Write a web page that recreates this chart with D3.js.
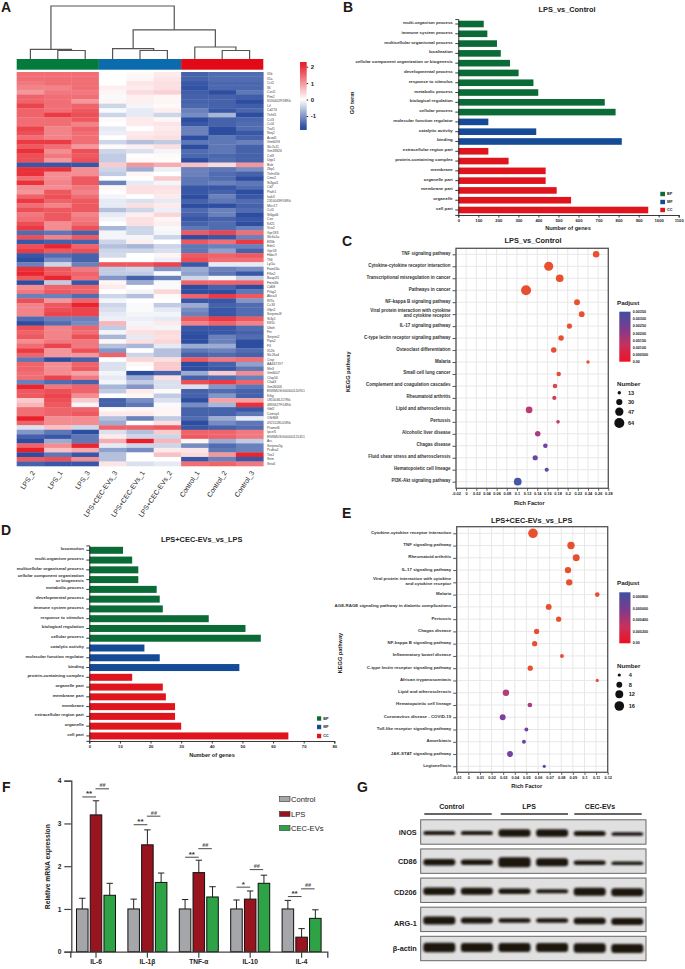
<!DOCTYPE html>
<html><head><meta charset="utf-8">
<script src="https://cdn.jsdelivr.net/npm/d3@7/dist/d3.min.js"></script>
<style>html,body{margin:0;background:#fff}svg{display:block}text{font-family:"Liberation Sans",Arial,sans-serif;fill:#222}</style>
</head><body><svg id="c" width="685" height="969"></svg>
<script>
// ---------- Panel A data ----------
const heatColumns=["LPS_2","LPS_1","LPS_3","LPS+CEC-EVs_3","LPS+CEC-EVs_1","LPS+CEC-EVs_2","Control_1","Control_2","Control_3"];
const heatGenes=["Il1b","Il1a","Ccl2","Il6","Cxcl2","Pim2","6530402F18Rik","Lif","Cd274","Tnfsf1","Ccl3","Ccl4","Traf1","Ninj2","Acod1","Gm6093","Slc7a11","Gm18826","Csf3","Upp1","Bub","Zbp1","Tnfrsf1b","Cmx2","St3gal1","Cd7","Ptafr1","Irak3","2310043F16Rik","Mtcr17","Ccl5","St6gal6","Csn","Kif21","Vcn2","Gpr183","Slc6a1a","Ell3b","Edn1","Gpr18","Hdac9","Tlt6","Lyl1a","Fam43a","F3in2","Basp2l1","Fmnl4b","Cd68","Prkg2","Abca3","Rf7a","Cc33","Gfpt2","Serpina3f","St3y1","Klf10","Ubxh","Fin","Serpini2","Pipa2","F3","Il12b","Slc26a4","Crsp","AA467197","Sfn3","Gm6007","Cfap50","Cfad3","Gm26006","ENSMUSG00000120951","Kifig","1810046J17Rik","4833427F14Rik","Gbf2","Cxmsp1","Olfr868","4921528L05Rik","Pramel6","Ipcef1","ENSMUSG00000121451","Arc","Serpina5g","Pcdha2","Tex2","Sntn","Stra6"];
const heatValues=[
[1.4,1.4,1.4,0,.05,.2,-1.5,-1.4,-1.4],[1.4,1.4,1.4,0,.1,.25,-1.5,-1.4,-1.4],[1.3,1.4,1.4,0,.25,.3,-1.6,-1.45,-1.45],[1.2,1.2,1.4,.15,.2,.3,-1.65,-1.45,-1.45],
[1,1.3,1.3,.1,.35,.45,-1.55,-1.8,-1.3],[1.5,1.4,1.4,-.05,.15,.1,-1.5,-1.5,-1.55],[1.5,1.4,1,.1,.15,.1,-1.5,-1.5,-1.7],[1.8,1.4,1.5,-.4,-.1,.05,-1.45,-1.5,-1.55],
[1.5,1.4,1.6,-.05,-.2,.15,-1.2,-1.6,-1.45],[1.5,1.9,1.7,-.4,-.2,-.4,-1.1,-.7,-1.8],[1.4,1.4,1.6,.05,.2,.1,-1.7,-1.5,-1.45],[1.4,1.4,1.2,0,.2,.25,-1.6,-1.5,-1.4],
[1.8,1.2,1.5,-.2,0,.2,-1.2,-1.7,-1.4],[1.7,1.2,1.4,-.15,.2,.25,-1.2,-1.7,-1.6],[1.4,1.2,1.4,0,.25,.3,-1.8,-1.3,-1.5],[1.9,1.9,1.4,-.4,-.6,-.5,-1.3,-1.3,-1.2],
[1.6,1.4,1,.05,.15,.3,-1.7,-1.3,-1.5],[2,1.1,1.7,-.4,-.3,-.1,-1.4,-1.3,-1.5],[1.7,1.3,1.6,-.5,.02,.05,-1.45,-1.45,-1.5],[1.7,1,1.7,-.5,.05,.03,-1.7,-1.4,-1.5],
[-1.6,-1.6,-1.6,.5,1,.8,.6,.35,1],[2,2,1.1,-.4,-.8,-.15,-1.2,-1.3,-1.1],[2,1.1,1.1,-.5,.1,0,-1.2,-1.4,-1.5],[1.4,1.1,1.6,-.02,0,.5,-1.3,-1.4,-1.7],
[2,1.2,1.6,-1.2,-.2,-.1,-1.3,-1.2,-1.3],[1.1,1.1,1.3,.1,.3,.3,-1.6,-1.6,-1.4],[1,1.6,1.2,.02,.3,.25,-1.6,-1.5,-1.7],[1.5,1.7,1.4,-.1,0,.2,-1.8,-1.2,-1.6],
[1.9,1.5,1.6,-.2,-.3,-.2,-1.5,-1.3,-1.4],[1.4,1.2,1.6,-.2,.3,.2,-1.7,-1.7,-1.5],[1.7,1.6,1.6,-.6,-.4,-.15,-1.4,-1.2,-1.4],[1.3,1.6,1.2,-.2,.15,.4,-1.5,-1.2,-1.7],
[1.4,1.6,1.3,-.1,.3,.1,-1.6,-1.5,-1.6],[1.7,1.1,1.4,0,.3,.15,-1.5,-1.4,-1.8],[1.9,1.1,1.7,-.7,-.4,-.05,-1.3,-1.4,-1.2],[-1.4,-1.3,-1.5,-.1,-.4,-.1,1.6,1.8,1.4],
[1.7,1.2,1.6,-.1,-.1,-.4,-1.7,-1.6,-1.2],[-1.6,-1.5,-1.5,-.4,.15,0,1.6,1.4,1.9],[1.7,2.1,1.5,-.6,-.7,-.4,-1.3,-1.2,-1.2],[1.9,1.6,1.7,-.4,-.4,-.3,-1.3,-.9,-1.5],
[-1.6,-1.4,-1.5,-.35,0,.1,1.6,1.5,1.6],[-1.9,-1.1,-1.5,0,0,-.15,1.7,1.4,1.4],[-1.2,-.4,-1.2,1.6,1.6,1.8,-1.6,-.2,-.2],[2,1.6,1.3,-.5,-.4,-1,-.8,-1.2,-1.1],
[2.1,1.6,1.5,-.5,-.5,-.05,-.9,-1.3,-1.6],[1.6,2.1,1.4,-1,-1.5,-1.2,-.4,-.1,-.5],[-1.7,-.5,-1.6,.1,-.8,-.05,1.5,1.5,1.5],[1.1,1.5,1.5,.2,0,-.05,-1.7,-1.5,-1.7],
[1.3,1.6,1.5,0,-.1,.4,-1.7,-1.7,-1.3],[-1.2,-1.2,-1.4,-.4,-.6,.05,1.5,1.9,1.6],[1.7,1,1.5,-.1,0,0,-1.6,-1.6,-1],[1.2,1.6,2.1,-.4,-.05,-.5,-.8,-1.5,-1.4],
[1.2,1.7,1.8,-.3,-.05,-.2,-1.1,-1.6,-1.4],[1.2,1.8,1.8,-.2,-.1,-.1,-1.2,-1.6,-1.4],[-1.4,-1.2,-1.2,-.15,-.15,-.2,1.6,1.9,1.6],[-1.9,-1.4,-1.1,.7,-.1,.2,1.2,1.5,1.2],
[1.7,1.2,1.5,-.5,.15,-.1,-1.6,-1.6,-1.4],[1.5,1.2,1.4,-.1,.3,.35,-1.65,-1.6,-1.5],[1.6,1.2,1.7,-.7,-.2,.3,-1.7,-1.2,-1.4],[1.1,1.3,1.3,.1,.3,.4,-1.8,-1.2,-1.8],
[1.4,1.8,1.3,-.6,-.7,-.2,-.8,-.8,-1.8],[1.9,1,1.7,-1,0,-.6,-1.3,-1.2,-1.4],[1.5,1,1,1.5,-.4,-.6,-1.5,-1.4,-1.5],[-1.3,-1.8,-1.5,0,.4,.3,1.6,1.3,1.4],
[1.5,1.1,1.5,-.3,.1,.5,-1.7,-1.5,-.9],[1.5,1.1,1.6,-.3,0,.5,-1.7,-1.6,-1.3],[1.4,1.1,.9,-.1,-1.85,-1.5,-.8,.5,1.1],[1.4,1.8,1.3,-.2,-.8,.3,-1.5,-1.4,-1.2],
[-1.2,-1.4,-1.5,-.1,-.5,-.3,1.7,1.9,1.5],[2.1,1.3,1.5,-.7,-1,-.3,-.3,-1,-1.3],[1.6,1.7,1.5,-.5,.2,.05,-1.5,-1.4,-1.5],[1.6,1.8,1.1,0,.1,-.5,-1.5,-1,-1.5],
[.5,1.7,.5,-1.5,-1.1,-.3,-1.8,.9,.9],[.7,1.6,-.1,-1.5,-1.3,-.05,-1.1,-.7,2],[1.4,1.5,1.5,.05,.1,.1,-1.5,-1.5,-1.6],[1.4,1.5,1.6,.2,.2,.1,-1.5,-1.5,-1.3],
[2.2,1.1,1.1,-.6,-1.2,-.5,-1.4,-.8,-.2],[1.5,1.1,1.1,-.8,.02,.3,-1.7,-1.1,-1.3],[-.3,.6,-.4,1.5,1.5,1.6,-1.6,-1.5,-1.4],[-1,-1.3,-1.8,-.3,-.6,.5,1.5,1.5,1.3],
[-1.5,-1.6,-1.3,.2,-.4,-.4,1.6,1.5,1.3],[-1.7,-.8,-1.3,.8,2.2,.7,.1,-.8,-.5],[1.5,1.1,2.1,-.2,-.4,-.4,-1.1,-1.4,-1.2],[2.3,.6,.8,-.9,-1.1,.2,.25,-1.3,-1.2],
[-1.7,-1.3,-1.6,-.6,0,.6,.35,1,2.1],[1.6,1.7,1.1,-.6,0,0,-1.6,-1.2,-1.6],[-1.5,-1.6,-1.6,.25,-.3,-.2,1.4,1.5,1.3]];
const heatGroups=[{start:0,end:3,color:"#047a3c"},{start:3,end:6,color:"#0a6cae"},{start:6,end:9,color:"#e20a17"}];
const heatTicks=[2,1,0,-1];
// dendrogram: [left, right, height] with leaves as column indices
const dendrogram=[[0,[1,2,16],18],[[3,[4,5,16],19.5],[6,[7,8,16],22.6],55],100];
// ---------- Panels B & D data ----------
const ontologyColors={BP:"#0b6b36",MF:"#154a96",CC:"#e0141d"};
const goTermsB=["multi-organism process","immune system process","multicellular organismal process","localization","cellular component organization or biogenesis","developmental process","response to stimulus","metabolic process","biological regulation","cellular process","molecular function regulator","catalytic activity","binding","extracellular region part","protein-containing complex","membrane","organelle part","membrane part","organelle","cell part"];
const goCountsB=[127,145,193,212,258,301,375,399,731,785,150,389,816,150,251,436,436,491,563,948];
const goClassB=["BP","BP","BP","BP","BP","BP","BP","BP","BP","BP","MF","MF","MF","CC","CC","CC","CC","CC","CC","CC"];
const goTicksB=[0,100,200,300,400,500,600,700,800,900,1000,1100];
const goTermsD=["locomotion","multi-organism process","multicellular organismal process","cellular component organization\nor biogenesis","metabolic process","developmental process","immune system process","response to stimulus","biological regulation","cellular process","catalytic activity","molecular function regulator","binding","protein-containing complex","organelle part","membrane part","membrane","extracellular region part","organelle","cell part"];
const goCountsD=[11,14,16,16,22,23,24,39,51,56,18,23,49,14,24,25,28,28,30,65];
const goClassD=["BP","BP","BP","BP","BP","BP","BP","BP","BP","BP","MF","MF","MF","CC","CC","CC","CC","CC","CC","CC"];
const goTicksD=[0,10,20,30,40,50,60,70,80];
// ---------- Panels C & E data ----------
const keggC=["TNF signaling pathway","Cytokine-cytokine receptor interaction","Transcriptional misregulation in cancer","Pathways in cancer","NF-kappa B signaling pathway","Viral protein interaction with cytokine\nand cytokine receptor","IL-17 signaling pathway","C-type lectin receptor signaling pathway","Osteoclast differentiation","Malaria","Small cell lung cancer","Complement and coagulation cascades","Rheumatoid arthritis","Lipid and atherosclerosis","Pertussis","Alcoholic liver disease","Chagas disease","Fluid shear stress and atherosclerosis","Hematopoietic cell lineage","PI3K-Akt signaling pathway"];
const richC=[.256,.1626,.1843,.118,.2184,.2276,.2034,.187,.1725,.24,.1823,.175,.1737,.124,.181,.141,.156,.136,.1587,.1016];
const numberC=[33,55,42,64,28,27,23,25,25,13,19,19,17,33,14,25,19,23,17,42];
const padjC=[.0002,.0002,.0002,.00025,.0002,.0002,.0002,.0002,.00025,.0002,.00035,.0007,.0012,.0015,.0015,.0018,.0026,.0027,.0031,.0035];
const richTicksC=[-0.02,0,0.02,0.04,0.06,0.08,0.1,0.12,0.14,0.16,0.18,0.2,0.22,0.24,0.26,0.28];
const padjLegendC=["0.00350","0.00300","0.00250","0.00200","0.00150","0.00100","0.000500","0.00"];
const padjLegendValuesC=[.0035,.003,.0025,.002,.0015,.001,.0005,0];
const numberLegendC=[13,30,47,64];
const keggE=["Cytokine-cytokine receptor interaction","TNF signaling pathway","Rheumatoid arthritis","IL-17 signaling pathway","Viral protein interaction with cytokine\nand cytokine receptor","Malaria","AGE-RAGE signaling pathway in diabetic complications","Pertussis","Chagas disease","NF-kappa B  signaling pathway","Inflammatory bowel disease","C-type lectin receptor signaling pathway","African trypanosomiasis","Lipid and atherosclerosis","Hematopoietic cell lineage","Coronavirus disease - COVID-19","Toll-like receptor signaling pathway","Amoebiasis","JAK-STAT signaling pathway","Legionellosis"];
const richE=[.0557,.0884,.0929,.0858,.0869,.111,.0692,.0778,.0588,.0571,.0806,.0533,.111,.0324,.053,.0296,.05,.0479,.0359,.0654];
const numberE=[16,11,10,9,9,6,8,7,7,7,5,7,4,9,6,8,5,5,8,4];
const padjE=[.00005,.00005,.00005,.00005,.00005,.00005,.00005,.00006,.00006,.00006,.00006,.00006,.00008,.00042,.00045,.00062,.00066,.0007,.00062,.00089];
const richTicksE=[-0.01,0,0.01,0.02,0.03,0.04,0.05,0.06,0.07,0.08,0.09,0.1,0.11,0.12];
const padjLegendE=["0.000800","0.000600","0.000400","0.000200","0.00"];
const padjLegendValuesE=[.0008,.0006,.0004,.0002,0];
const numberLegendE=[4,8,12,16];
// ---------- Panel F data ----------
const qpcrGenes=["IL-6","IL-1β","TNF-α","IL-10","IL-4"];
const qpcrSeries=["Control","LPS","CEC-EVs"];
const qpcrColors=["#a5a6aa","#98141f","#2da346"];
const qpcrMeans=[[1,3.2,1.32],[1,2.5,1.62],[1,1.85,1.28],[1,1.23,1.6],[1,.34,.78]];
const qpcrTops=[[1.25,3.53,1.6],[1.23,2.85,1.84],[1.22,2.14,1.52],[1.21,1.42,1.79],[1.2,.54,.98]];
const sigStar=[{level:3.62,mark:"**"},{level:2.97,mark:"**"},{level:2.21,mark:"**"},{level:1.51,mark:"*"},{level:1.29,mark:"**"}];
const sigHash=[3.81,3.17,2.41,1.92,1.47];
const qpcrTicks=[0,1,2,3,4];
// ---------- Panel G data ----------
const blotProteins=["iNOS","CD86","CD206","ARG-1","β-actin"];
const blotGroups=["Control","LPS","CEC-EVs"];
const blotThickness=[[4,4,7.5,7.5,5,3.5],[6.5,5.5,10,8,4.5,3.5],[7.5,7,5.5,4,8,8],[8,6,4.5,4.5,6.5,7],[9.5,9,9,9,9.5,9]];
const blotShift=[0,0,0,0,.5,1,-1,-.5,0,.5,0,0];

// ---------- helpers ----------
const svg=d3.select("#c");
const F="Liberation Sans";
function txt(g,x,y,s,o={}){const t=g.append("text").attr("x",x).attr("y",y).attr("font-size",o.size||6).attr("font-weight",o.bold===false?"normal":"bold").attr("text-anchor",o.anchor||"middle").attr("dominant-baseline","central").text(s);
 if(o.rotate!=null)t.attr("transform",`rotate(${o.rotate},${x},${y})`);if(o.fill)t.style("fill",o.fill);return t;}
function panel(l,x,y){txt(svg,x,y,l,{size:14,anchor:"start",fill:"#231815"});}
function multiline(sel,size){sel.each(function(d){const lines=String(d).split("\n");const t=d3.select(this).text(null);
 lines.forEach((l,i)=>t.append("tspan").attr("x",t.attr("x")).attr("dy",i===0?(-(lines.length-1)*size*.6)+"px":(size*1.2)+"px").text(l));});}
function styleAxis(g,c,w){g.selectAll("path.domain").attr("stroke",c).attr("stroke-width",w);g.selectAll(".tick line").attr("stroke",c).attr("stroke-width",Math.min(w,.9));}

// ---------- Panel A ----------
panel("A",1,7);
const A=svg.append("g");
const colX=d3.scaleBand().domain(d3.range(9)).range([16.7,263.3]);
const rowY=d3.scaleBand().domain(d3.range(heatGenes.length)).range([72,466]);
const heatColor=d3.scaleLinear().domain([-1.7,0,2.15]).range(["#2c4da0","#ffffff","#e8202a"]).clamp(true);
heatValues.forEach((row,r)=>row.forEach((v,c)=>A.append("rect").attr("x",colX(c)).attr("y",rowY(r)).attr("width",colX.bandwidth()+.3).attr("height",rowY.bandwidth()+.3).attr("fill",heatColor(v))));
heatGenes.forEach((g,r)=>txt(A,267,rowY(r)+rowY.bandwidth()/2,g,{size:3.4,bold:false,anchor:"start",fill:"#444"}));
heatGroups.forEach(g=>A.append("rect").attr("x",colX(g.start)).attr("y",59).attr("width",colX.bandwidth()*(g.end-g.start)).attr("height",10.7).attr("fill",g.color));
heatColumns.forEach((c,i)=>txt(A,colX(i)+colX.bandwidth()/2+3,471.5,c,{size:6.9,bold:false,anchor:"end",rotate:-56}));
const dendY=d3.scaleLinear().domain([0,100]).range([59,6]);
function dend(n,g){ if(typeof n==="number")return{x:colX(n)+colX.bandwidth()/2,y:59};
 const a=dend(n[0],g),b=dend(n[1],g),y=dendY(n[2]);
 g.append("path").attr("d",`M${a.x},${a.y}V${y}H${b.x}V${b.y}`).attr("fill","none").attr("stroke","#555").attr("stroke-width",1.2);
 return{x:(a.x+b.x)/2,y};}
dend(dendrogram,A);
const defs=svg.append("defs");
function gradient(id,stops){const g=defs.append("linearGradient").attr("id",id).attr("x1",0).attr("x2",0).attr("y1",1).attr("y2",0);stops.forEach((c,i)=>g.append("stop").attr("offset",i/(stops.length-1)).attr("stop-color",c));}
const heatBarY=d3.scaleLinear().domain([2,-1]).range([66.7,116]);
gradient("gHeat",d3.range(0,1.0001,.05).map(t=>heatColor(heatBarY.invert(130-t*68))));
A.append("rect").attr("x",300).attr("y",62).attr("width",6.7).attr("height",68).attr("fill","url(#gHeat)");
A.append("g").attr("transform","translate(306.7,0)").call(d3.axisRight(heatBarY).tickValues(heatTicks).tickSize(1.5).tickFormat(d=>String(d))).call(g=>{g.select(".domain").remove();g.selectAll("text").attr("font-size",6).attr("font-weight","bold").attr("font-family",F).attr("x",4);g.selectAll("line").attr("stroke","#222");});

// ---------- Panels B, D ----------
function goBars(o){const g=svg.append("g");
 const x=d3.scaleLinear().domain(o.xDomain).range(o.xRange);
 const y=d3.scaleBand().domain(o.terms).range([o.yStart-o.pitch/2,o.yStart-o.pitch/2+o.pitch*o.terms.length]);
 g.selectAll("rect.b").data(o.terms).join("rect").attr("class","b").attr("x",x(0)).attr("y",d=>y(d)+(o.pitch-o.bar)/2).attr("height",o.bar).attr("width",(d,i)=>x(o.counts[i])-x(0)).attr("fill",(d,i)=>ontologyColors[o.classes[i]]);
 const yA=g.append("g").attr("transform",`translate(${x(0)},0)`).call(d3.axisLeft(y).tickSize(3).tickPadding(2.5));
 yA.selectAll("text").attr("font-size",o.labelSize).attr("font-weight","bold").attr("font-family",F).style("fill","#333").call(s=>multiline(s,o.labelSize));
 styleAxis(yA,"#222",.9);
 const xA=g.append("g").attr("transform",`translate(0,${o.axisY})`).call(d3.axisBottom(x).tickValues(o.ticks).tickSize(2.5).tickPadding(1.5).tickFormat(d=>String(d)));
 xA.selectAll("text").attr("font-size",4.2).attr("font-weight","bold").attr("font-family",F);styleAxis(xA,"#222",.9);
 txt(g,o.titleX,o.titleY,o.title,{size:7.4});
 txt(g,o.xTitleX,o.xTitleY,"Number of genes",{size:5.6});
 Object.keys(ontologyColors).forEach((k,i)=>{g.append("rect").attr("x",o.legX).attr("y",o.legY[i]-2.2).attr("width",o.legS).attr("height",4.4).attr("fill",ontologyColors[k]);txt(g,o.legX+o.legS+2,o.legY[i],k,{size:3.8,anchor:"start"});});
 return g;}
panel("B",343,7);
const gB=goBars({terms:goTermsB,counts:goCountsB,classes:goClassB,ticks:goTicksB,xDomain:[0,1100],xRange:[458.3,678.7],yStart:24,pitch:9.79,bar:6.6,axisY:215,labelSize:4.4,title:"LPS_vs_Control",titleX:567,titleY:9,xTitleX:568,xTitleY:228,legX:660.3,legS:4.7,legY:[194,202,210]});
txt(gB,352,103,"GO term",{size:5.6,rotate:-90});
panel("D",1,530);
goBars({terms:goTermsD,counts:goCountsD,classes:goClassD,ticks:goTicksD,xDomain:[0,80],xRange:[89.3,334.3],yStart:550.3,pitch:9.77,bar:7,axisY:741,labelSize:4.3,title:"LPS+CEC-EVs_vs_LPS",titleX:201.7,titleY:539,xTitleX:212,xTitleY:755,legX:317,legS:4.2,legY:[718.5,727,736]});

// ---------- Panels C, E ----------
const padjRamp=d3.scaleLinear().domain([0,.057,.4,.7,1]).range(["#ee1c25","#e8502f","#c23c70","#7a3f9d","#4455aa"]);
function bubble(o){const g=svg.append("g");
 const x=d3.scaleLinear().domain(o.xDomain).range([o.l,o.r]);
 const y=d3.scalePoint().domain(o.terms).range(o.yRange);
 const rScale=d3.scaleSqrt().domain(o.rDomain).range(o.rRange);
 const c=d3.scaleLinear().domain([0,o.padjMax]).range([0,1]);
 g.selectAll("line.v").data(o.ticks).join("line").attr("x1",d=>x(d)).attr("x2",d=>x(d)).attr("y1",o.t).attr("y2",o.b).attr("stroke","#e8e8e8").attr("stroke-width",1);
 g.selectAll("line.h").data(o.terms).join("line").attr("x1",o.l).attr("x2",o.r).attr("y1",d=>y(d)).attr("y2",d=>y(d)).attr("stroke","#e8e8e8").attr("stroke-width",1);
 g.selectAll("circle.d").data(o.terms).join("circle").attr("cx",(d,i)=>x(o.rich[i])).attr("cy",d=>y(d)).attr("r",(d,i)=>rScale(o.number[i])).attr("fill",(d,i)=>padjRamp(c(o.padj[i])));
 const yA=g.append("g").attr("transform",`translate(${o.l},0)`).call(d3.axisLeft(y).tickSize(3.5).tickPadding(2));
 yA.selectAll("text").attr("font-size",o.labelSize).attr("font-weight","bold").attr("font-family",F).style("fill","#333").call(s=>multiline(s,o.labelSize));
 styleAxis(yA,"#444",.9);yA.select(".domain").remove();
 const xA=g.append("g").attr("transform",`translate(0,${o.b})`).call(d3.axisBottom(x).tickValues(o.ticks).tickSize(2.5).tickPadding(1.5).tickFormat(d=>String(d)));
 xA.selectAll("text").attr("font-size",3.9).attr("font-weight","bold").attr("font-family",F);styleAxis(xA,"#444",.9);xA.select(".domain").remove();
 g.append("rect").attr("x",o.l).attr("y",o.t).attr("width",o.r-o.l).attr("height",o.b-o.t).attr("fill","none").attr("stroke","#555").attr("stroke-width",1.3);
 txt(g,o.titleX,o.titleY,o.title,{size:7.4});
 txt(g,o.xTitleX,o.xTitleY,"Rich Factor",{size:5.6});
 txt(g,o.yTitleX,o.yTitleY,"KEGG pathway",{size:5.6,rotate:-90});
 txt(g,617,o.padjY,"Padjust",{size:6.2,anchor:"start"});
 const id="g"+o.id;gradient(id,["#ee1124","#c8305c","#7a3c8e","#3f4f9f"]);
 g.append("rect").attr("x",619.3).attr("y",o.barT).attr("width",11.2).attr("height",o.barB-o.barT).attr("fill",`url(#${id})`);
 const ly=d3.scaleLinear().domain([0,o.barMax]).range([o.barB,o.barT]);
 o.legendValues.forEach((v,i)=>txt(g,632.7,ly(v),o.legendLabels[i],{size:3.7,anchor:"start"}));
 txt(g,617,o.numY,"Number",{size:6.2,anchor:"start"});
 o.numLegend.forEach((n,i)=>{g.append("circle").attr("cx",619.3).attr("cy",o.numLegY[i]).attr("r",rScale(n)).attr("fill","#111");txt(g,o.numX,o.numLegY[i],n,{size:5.6,anchor:"start"});});
 return g;}
panel("C",342,241);
bubble({id:"C",terms:keggC,rich:richC,number:numberC,padj:padjC,ticks:richTicksC,xDomain:[-.02,.28],l:456,r:608.3,t:248.3,b:488.3,yRange:[254.3,481.7],rDomain:[13,64],rRange:[1.7,5],padjMax:.0035,labelSize:4.5,title:"LPS_vs_Control",titleX:533,titleY:240.3,xTitleX:529.3,xTitleY:503.3,yTitleX:348,yTitleY:371.7,padjY:302.7,barT:311.7,barB:361.7,barMax:.00355,legendValues:padjLegendValuesC,legendLabels:padjLegendC,numY:383.3,numLegend:numberLegendC,numLegY:[392.7,402,411.7,423],numX:628});
panel("E",342,513);
bubble({id:"E",terms:keggE,rich:richE,number:numberE,padj:padjE,ticks:richTicksE,xDomain:[-.01,.12],l:456.7,r:607.7,t:526.7,b:772.3,yRange:[533.3,766.3],rDomain:[4,16],rRange:[1.6,4.8],padjMax:.00089,labelSize:4.4,title:"LPS+CEC-EVs_vs_LPS",titleX:531.7,titleY:520,xTitleX:526.7,xTitleY:786.3,yTitleX:340,yTitleY:653,padjY:582,barT:592.3,barB:643.3,barMax:.00089,legendValues:padjLegendValuesE,legendLabels:padjLegendE,numY:665.7,numLegend:numberLegendE,numLegY:[675,684.7,694.3,706],numX:628.7});

// ---------- Panel F ----------
panel("F",2,787);
const fG=svg.append("g");
const fX=d3.scaleBand().domain(qpcrGenes).range([70.3,327.3]);
const fS=d3.scaleBand().domain(qpcrSeries).range([-19.5,19.5]).paddingInner(.16);
const fY=d3.scaleLinear().domain([0,4]).range([951.7,780.7]);
qpcrGenes.forEach((gene,i)=>{const cx=fX(gene)+fX.bandwidth()/2;
 qpcrSeries.forEach((s,j)=>{const bx=cx+fS(s),w=fS.bandwidth(),mx=bx+w/2;
  fG.append("path").attr("d",`M${mx},${fY(qpcrMeans[i][j])}V${fY(qpcrTops[i][j])}M${mx-3.2},${fY(qpcrTops[i][j])}H${mx+3.2}`).attr("stroke","#222").attr("stroke-width",1).attr("fill","none");
  fG.append("rect").attr("x",bx).attr("y",fY(qpcrMeans[i][j])).attr("width",w).attr("height",fY(0)-fY(qpcrMeans[i][j])).attr("fill",qpcrColors[j]).attr("stroke","#111").attr("stroke-width",1);});
 const st=sigStar[i];
 fG.append("line").attr("x1",cx-13.7).attr("x2",cx).attr("y1",fY(st.level)).attr("y2",fY(st.level)).attr("stroke","#333").attr("stroke-width",.9);
 txt(fG,cx-7,fY(st.level)-3,st.mark,{size:8,fill:"#333"});
 fG.append("line").attr("x1",cx-.5).attr("x2",cx+13).attr("y1",fY(sigHash[i])).attr("y2",fY(sigHash[i])).attr("stroke","#333").attr("stroke-width",.9);
 txt(fG,cx+6.5,fY(sigHash[i])-3.5,"##",{size:5.5,fill:"#555"});
});
const fYA=fG.append("g").attr("transform","translate(71.3,0)").call(d3.axisLeft(fY).tickValues(qpcrTicks).tickSize(7).tickPadding(3).tickFormat(d3.format("d")));
fYA.selectAll("text").attr("font-size",6.6).attr("font-weight","bold").attr("font-family",F);styleAxis(fYA,"#444",1.3);fYA.selectAll(".tick line").attr("stroke-width",1.2);
const fXA=fG.append("g").attr("transform","translate(0,951.7)").call(d3.axisBottom(fX).tickSize(6).tickPadding(2));
fXA.selectAll("text").attr("font-size",6.6).attr("font-weight","bold").attr("font-family",F);styleAxis(fXA,"#444",1.3);fXA.selectAll(".tick line").attr("stroke-width",1.2);
txt(fG,47.3,866.7,"Relative mRNA expression",{size:6.7,rotate:-90});
qpcrSeries.forEach((s,i)=>{const y=[799,814,828][i];fG.append("rect").attr("x",279.5).attr("y",y-2.5).attr("width",10.5).attr("height",5).attr("fill",qpcrColors[i]).attr("stroke","#333").attr("stroke-width",.6);txt(fG,291,y,s,{size:7.6,bold:false,anchor:"start"});});

// ---------- Panel G ----------
panel("G",357,787);
const gG=svg.append("g");
const f=defs.append("filter").attr("id","blotBlur").attr("x","-20%").attr("y","-60%").attr("width","140%").attr("height","220%");
f.append("feGaussianBlur").attr("stdDeviation",1);
const laneX=d3.scalePoint().domain(d3.range(6)).range([439.3,627.3]);
const laneRow=d3.scalePoint().domain(blotProteins).range([832,948.5]);
const labelY=[832,861,892,923,948];
blotProteins.forEach((p,r)=>{const cy=laneRow(p);
 gG.append("rect").attr("x",420.7).attr("y",cy-12.2).attr("width",225.3).attr("height",24.4).attr("fill","#e0e0e0").attr("stroke","#666").attr("stroke-width",1);
 blotThickness[r].forEach((t,l)=>gG.append("rect").attr("x",laneX(l)-16).attr("y",cy-t/2+(r<4?1:-1)+blotShift[l]).attr("width",32).attr("height",t).attr("rx",3).attr("fill","#1c1210").attr("filter","url(#blotBlur)"));
 txt(gG,416.7,labelY[r],p,{size:7.3,anchor:"end"});
});
blotGroups.forEach((s,i)=>{const a=[424.3,500.7,574.3][i],b=[491.7,568,641.7][i];
 gG.append("line").attr("x1",a).attr("x2",b).attr("y1",814).attr("y2",814).attr("stroke","#333").attr("stroke-width",1.5);
 txt(gG,[451.7,529,600][i],806.7,s,{size:7});});
</script></body></html>
